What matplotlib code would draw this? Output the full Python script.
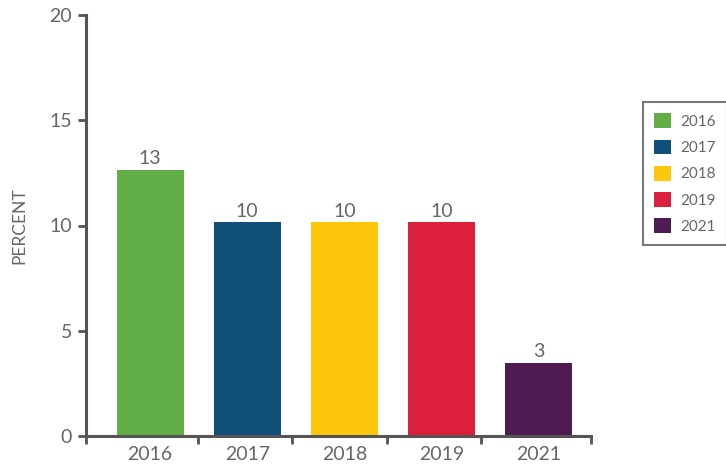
import matplotlib.pyplot as plt
from matplotlib.patches import Patch

years = ["2016", "2017", "2018", "2019", "2021"]
percent = [12.65, 10.15, 10.15, 10.15, 3.47]
labels = ["13", "10", "10", "10", "3"]
colors = ["#62AE46", "#0F4F78", "#FDC70C", "#DC1F3C", "#501B53"]

plt.rcParams['font.family'] = ['Lato', 'DejaVu Sans']
grey = "#666666"

fig = plt.figure(figsize=(7.26, 4.71), dpi=100)
ax = fig.add_axes([86 / 726, 35 / 471, 505 / 726, 421 / 471])

x = list(range(len(years)))
ax.bar(x, percent, width=0.69, color=colors)

# value labels
for xi, v, lab in zip(x, percent, labels):
    ax.text(xi, v + 0.12, lab, ha="center", va="bottom", fontsize=14, color=grey)

x0, x1 = -0.66, 4.54
ax.set_xlim(x0, x1)
ax.set_ylim(0, 20)
ax.set_yticks([0, 5, 10, 15, 20])

# year labels centred under bars, ticks at the boundaries
ax.set_xticks(x)
ax.set_xticklabels(years)
ax.tick_params(axis="x", length=0, pad=7, labelsize=14, labelcolor=grey)
ax.set_xticks([x0, 0.49, 1.46, 2.44, 3.41, x1], minor=True)
ax.tick_params(axis="x", which="minor", length=6, width=2, color="#555555", direction="out")
ax.tick_params(axis="y", length=6, width=2, color="#555555", labelsize=14, labelcolor=grey, pad=4)

for side in ["top", "right"]:
    ax.spines[side].set_visible(False)
for side in ["left", "bottom"]:
    ax.spines[side].set_color("#555555")
    ax.spines[side].set_linewidth(2.2)

ax.set_ylabel("PERCENT", fontsize=12.5, color=grey, labelpad=16)

handles = [Patch(facecolor=c, edgecolor="none") for c in colors]
leg = fig.legend(handles, years, loc="upper left", bbox_to_anchor=(643 / 726, 1 - 102 / 471),
                 borderaxespad=0, frameon=True, fancybox=False, fontsize=11, labelcolor=grey,
                 handlelength=1.1, handleheight=1.1, handletextpad=0.6,
                 labelspacing=0.7, borderpad=0.75)
leg.get_frame().set_edgecolor("#555555")
leg.get_frame().set_linewidth(1.5)

fig.savefig("out.png", dpi=100)
